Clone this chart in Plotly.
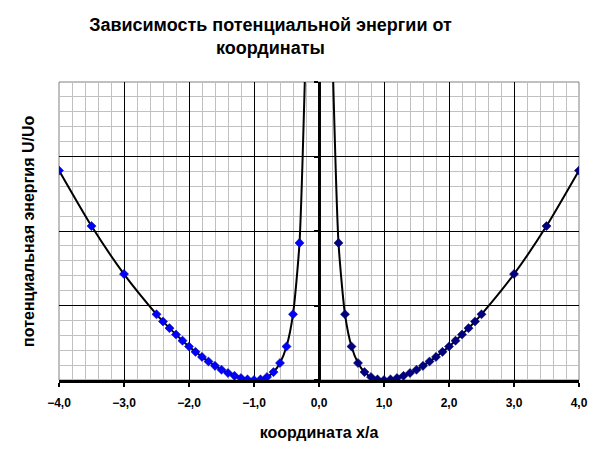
import plotly.graph_objects as go

# Left branch (x < 0)
x_left = [-4.0, -3.5, -3.0, -2.5, -2.4, -2.3, -2.2, -2.1, -2.0, -1.9, -1.8, -1.7,
          -1.6, -1.5, -1.4, -1.3, -1.2, -1.1, -1.0, -0.9, -0.8, -0.7, -0.6, -0.5,
          -0.4, -0.3, -0.2]
u_left = [14.06, 10.33, 7.11, 4.41, 3.93, 3.48, 3.05, 2.64, 2.25, 1.89, 1.55, 1.24,
          0.95, 0.69, 0.47, 0.28, 0.13, 0.04, 0.00, 0.04, 0.20, 0.53, 1.14, 2.25,
          4.41, 9.20, 23.04]

# Right branch (x > 0)
x_right = [0.2, 0.3, 0.4, 0.5, 0.6, 0.7, 0.8, 0.9, 1.0, 1.1, 1.2, 1.3, 1.4, 1.5,
           1.6, 1.7, 1.8, 1.9, 2.0, 2.1, 2.2, 2.3, 2.4, 2.5, 3.0, 3.5, 4.0]
u_right = [23.04, 9.20, 4.41, 2.25, 1.14, 0.53, 0.20, 0.04, 0.00, 0.04, 0.13, 0.28,
           0.47, 0.69, 0.95, 1.24, 1.55, 1.89, 2.25, 2.64, 3.05, 3.48, 3.93, 4.41,
           7.11, 10.33, 14.06]

x_ticks = [-4, -3, -2, -1, 0, 1, 2, 3, 4]

title_text = "Зависимость потенциальной энергии от<br>координаты"
x_title = "координата x/a"
y_title = "потенциальная энергия U/Uo"

fig = go.Figure()
fig.add_trace(go.Scatter(
    x=x_left, y=u_left, mode="lines+markers",
    line=dict(color="black", width=2, shape="spline", smoothing=0.6),
    marker=dict(symbol="diamond", size=7, color="#0000FF",
                line=dict(color="#000080", width=0.5)),
    cliponaxis=True, showlegend=False))
fig.add_trace(go.Scatter(
    x=x_right, y=u_right, mode="lines+markers",
    line=dict(color="black", width=2, shape="spline", smoothing=0.6),
    marker=dict(symbol="diamond", size=7, color="#000080",
                line=dict(color="#000060", width=0.5)),
    cliponaxis=True, showlegend=False))

fig.update_layout(
    width=605, height=450,
    margin=dict(l=51, r=34, t=74, b=78),
    paper_bgcolor="white", plot_bgcolor="white",
    separators=", ",
    font=dict(family="Liberation Sans, Arial, sans-serif", color="black"),
    title=dict(text=title_text, x=262.5 / 605, xanchor="center",
               y=1 - 23 / 450, yanchor="middle",
               font=dict(size=18, weight="bold", color="black")),
    xaxis=dict(
        range=[-4, 4], tickvals=x_ticks, tickformat=".1f",
        tickfont=dict(size=12, weight="bold"),
        ticklabelstandoff=6,
        showgrid=True, gridcolor="black", gridwidth=1,
        minor=dict(dtick=0.2, showgrid=True, gridcolor="#C0C0C0", gridwidth=1),
        zeroline=False,
        showline=True, linecolor="black", linewidth=3,
        ticks="outside", ticklen=4, tickwidth=2, tickcolor="black",
        title=dict(text=x_title, font=dict(size=16, weight="bold"), standoff=18),
        automargin=False,
        fixedrange=True,
    ),
    yaxis=dict(
        range=[0, 20], dtick=5,
        showticklabels=False,
        showgrid=True, gridcolor="black", gridwidth=1,
        minor=dict(dtick=1, showgrid=True, gridcolor="#C0C0C0", gridwidth=1),
        zeroline=False,
        anchor="free", position=0.5,
        showline=True, linecolor="black", linewidth=3,
        ticks="outside", ticklen=4, tickwidth=2, tickcolor="black",
        automargin=False,
        fixedrange=True,
    ),
    annotations=[dict(
        text=y_title, xref="paper", yref="paper",
        x=-30 / 520, y=0.497, xanchor="center", yanchor="middle",
        textangle=-90, showarrow=False,
        font=dict(size=16, weight="bold", color="black"))],
    shapes=[dict(type="rect", xref="paper", yref="paper", x0=0, x1=1, y0=0, y1=1,
                 line=dict(color="#808080", width=1), layer="below")],
)

fig.write_html("out.html")
